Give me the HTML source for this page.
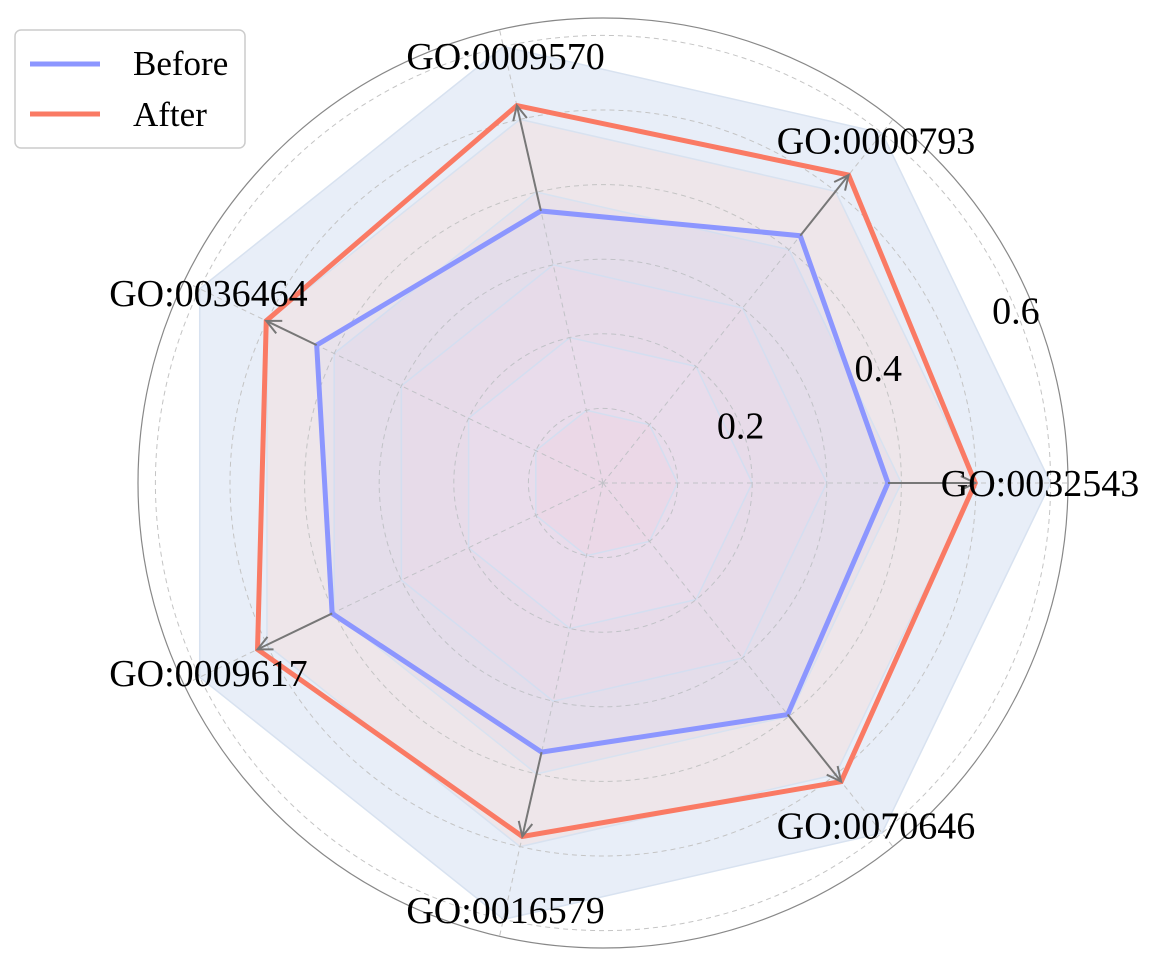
<!DOCTYPE html>
<html><head><meta charset="utf-8"><style>
body{margin:0;background:#fff;}
svg text{font-family:"Liberation Serif",serif;fill:#000;}
</style></head><body>
<svg id="chart" width="1163" height="965" xmlns="http://www.w3.org/2000/svg">
<g id="bands"></g><g id="grid"></g><g id="series"></g><g id="labels"></g>
<g>
<rect x="15" y="30" width="230" height="118" rx="6" fill="#fff" stroke="#ccc" stroke-width="1.5"/>
<line x1="30" y1="64" x2="100" y2="64" stroke="#8c96ff" stroke-width="5"/>
<text x="133" y="75" font-size="35">Before</text>
<line x1="30" y1="114" x2="100" y2="114" stroke="#fa7a64" stroke-width="5"/>
<text x="133" y="126" font-size="35">After</text>
</g>
</svg>
<script>
const categories=["GO:0032543","GO:0000793","GO:0009570","GO:0036464","GO:0009617","GO:0016579","GO:0070646"];
const beforeValues=[0.382,0.424,0.374,0.426,0.403,0.370,0.397];
const afterValues=[0.499,0.528,0.519,0.501,0.514,0.486,0.512];
const tickValues=[0.2,0.4,0.6];
const tickLabels=["0.2","0.4","0.6"];
const gridValues=[0.1,0.2,0.3,0.4,0.5,0.6];
const bandValues=[0.6,0.5,0.4,0.3,0.2,0.1];
const bandColors=["#e8eef8","#eee6ea","#e9e1e9","#ecdfe8","#efe0ea","#f1dce6"];
const CX=603,CY=483,SCALE=746,RMAX=465;
const NS="http://www.w3.org/2000/svg";
function ang(i){return i*2*Math.PI/categories.length;}
function pt(i,v){const a=ang(i),r=v*SCALE;return [CX+r*Math.cos(a),CY-r*Math.sin(a)];}
function mk(tag,attrs,parent){const e=document.createElementNS(NS,tag);for(const k in attrs)e.setAttribute(k,attrs[k]);parent.appendChild(e);return e;}
function poly(vals){return vals.map((v,i)=>pt(i,v).join(",")).join(" ");}
const bands=document.getElementById("bands"),grid=document.getElementById("grid"),series=document.getElementById("series"),labels=document.getElementById("labels");
bandValues.forEach((b,k)=>{
 const p=mk("polygon",{points:poly(categories.map(()=>b)),fill:bandColors[k],stroke:"#d8e2f0","stroke-width":1.5},bands);
 
 
});
gridValues.forEach(g=>{
 const c=mk("circle",{cx:CX,cy:CY,r:g*SCALE,fill:"none",stroke:"#c4c4c4","stroke-dasharray":"5,4","stroke-width":1},grid);
 
 
});
const oc=mk("circle",{cx:CX,cy:CY,r:RMAX,fill:"none",stroke:"#888","stroke-width":1.2},grid);


categories.forEach((c,i)=>{
 const a=ang(i);
 const l=mk("line",{x1:CX,y1:CY,x2:CX+RMAX*Math.cos(a),y2:CY-RMAX*Math.sin(a),stroke:"#c4c4c4","stroke-dasharray":"5,4","stroke-width":1},grid);
 
 
});
const bf=mk("polygon",{points:poly(beforeValues),fill:"rgba(140,150,255,0.05)",stroke:"#8c96ff","stroke-width":5,"stroke-linejoin":"miter"},series);


const af=mk("polygon",{points:poly(afterValues),fill:"none",stroke:"#fa7a64","stroke-width":5,"stroke-linejoin":"miter"},series);


categories.forEach((c,i)=>{
 const [x1,y1]=pt(i,beforeValues[i]),[x2,y2]=pt(i,afterValues[i]);
 const a=Math.atan2(y2-y1,x2-x1),h=16,w=0.45;
 const g=mk("g",{},series);
 
 
 mk("line",{x1:x1,y1:y1,x2:x2,y2:y2,stroke:"#777","stroke-width":2},g);
 mk("polyline",{points:`${x2-h*Math.cos(a-w)},${y2-h*Math.sin(a-w)} ${x2},${y2} ${x2-h*Math.cos(a+w)},${y2-h*Math.sin(a+w)}`,fill:"none",stroke:"#777","stroke-width":2},g);
});
const LABEL_R=0.587;
categories.forEach((c,i)=>{
 const a=ang(i);let x=CX+LABEL_R*SCALE*Math.cos(a),y=CY-LABEL_R*SCALE*Math.sin(a);
 if(i===0){x=1040;y=483;}
 const t=mk("text",{x:x,y:y+13,"font-size":38,"text-anchor":"middle"},labels);
 t.textContent=c;
 
 
});
tickValues.forEach((v,k)=>{
 const a=22.7*Math.PI/180,r=v*SCALE*1.0;
 const t=mk("text",{x:CX+r*Math.cos(a),y:CY-r*Math.sin(a)+13,"font-size":38,"text-anchor":"middle"},labels);
 t.textContent=tickLabels[k];
 
 
});
</script>
</body></html>
